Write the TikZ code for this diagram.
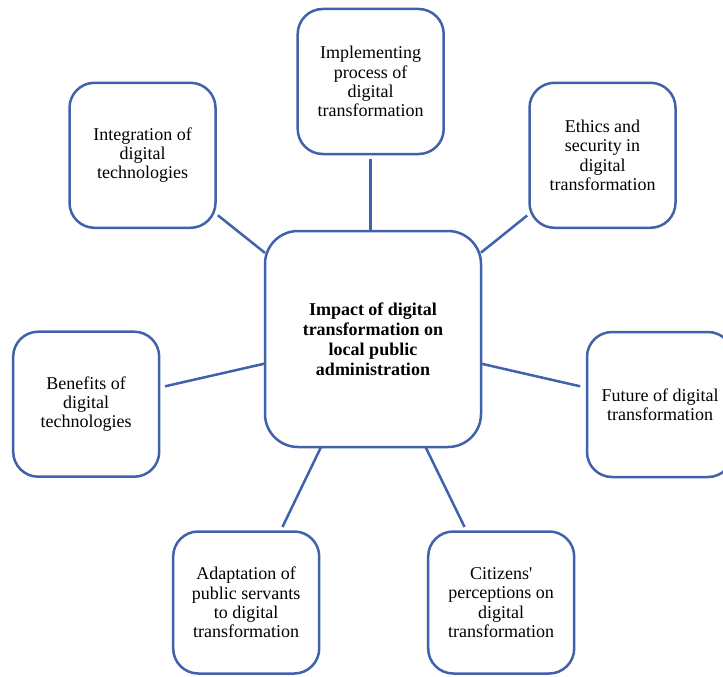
\documentclass[tikz,border=0pt]{standalone}
\usepackage{fontspec}
\setmainfont{Liberation Serif}[Ligatures=TeXOff]
\definecolor{lineblue}{HTML}{3F62AB}
\begin{document}
\begin{tikzpicture}[x=1pt,y=-1pt,
  box/.style={draw=lineblue, line width=2.5pt, rounded corners=25pt,
    minimum width=146pt, minimum height=145pt, outer sep=0pt, inner sep=0pt,
    align=center, font=\fontsize{18}{19.3}\selectfont, fill=white},
  hub/.style={box, minimum width=216pt, minimum height=216pt, rounded corners=33pt,
    font=\bfseries\fontsize{18}{20}\selectfont},
  link/.style={draw=lineblue, line width=2.5pt}]
\useasboundingbox (0,0) rectangle (723,677);
\node[hub] (c) at (373,339) {Impact of digital\\transformation on\\local public\\administration};
\node[box] (top) at (370.7,81.5) {Implementing\\process of\\digital\\transformation};
\node[box] (tl) at (142.5,155.3) {Integration of\\digital\\technologies};
\node[box] (tr) at (602.5,155.3) {Ethics and\\security in\\digital\\transformation};
\node[box] (l) at (86.2,404.2) {Benefits of\\digital\\technologies};
\node[box] (r) at (660,404.5) {Future of digital\\transformation};
\node[box, minimum height=142pt] (bl) at (246.2,602.5) {Adaptation of\\public servants\\to digital\\transformation};
\node[box, minimum height=142pt] (br) at (501.2,602.5) {Citizens'\\perceptions on\\digital\\transformation};
\draw[link, shorten <=5pt] (top.south) -- (top.south |- c.north);
\draw[link, shorten >=3pt] (c) -- (tl);
\draw[link, shorten >=3pt] (c) -- (tr);
\draw[link, shorten >=6pt] (c) -- (l);
\draw[link, shorten >=7pt] (c) -- (r);
\draw[link, shorten >=5pt] (c) -- (bl);
\draw[link, shorten >=5pt] (c) -- (br);
\end{tikzpicture}
\end{document}
